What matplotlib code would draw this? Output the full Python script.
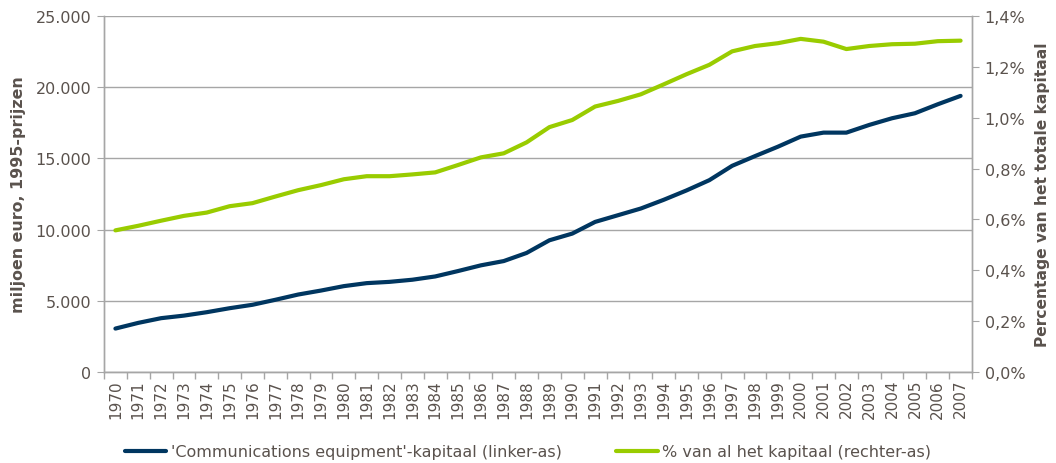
import matplotlib
matplotlib.use("Agg")
import matplotlib.pyplot as plt
from matplotlib.ticker import FuncFormatter, MultipleLocator, FixedLocator

years = list(range(1970, 2008))

# 'Communications equipment'-kapitaal, miljoen euro (linker-as)
kapitaal = [3050, 3450, 3780, 3960, 4200, 4480, 4720, 5070, 5440, 5720,
            6030, 6240, 6330, 6480, 6710, 7090, 7490, 7790, 8360, 9250,
            9720, 10540, 11010, 11480, 12090, 12750, 13470, 14480, 15160, 15820,
            16530, 16810, 16810, 17350, 17820, 18170, 18800, 19390]

# % van al het kapitaal (rechter-as)
aandeel = [0.557, 0.575, 0.595, 0.614, 0.627, 0.652, 0.664, 0.690, 0.715, 0.735,
           0.758, 0.770, 0.770, 0.777, 0.785, 0.814, 0.844, 0.860, 0.903, 0.963,
           0.991, 1.044, 1.066, 1.092, 1.131, 1.171, 1.208, 1.261, 1.282, 1.293,
           1.310, 1.299, 1.270, 1.282, 1.289, 1.291, 1.301, 1.303]

label_left = "'Communications equipment'-kapitaal (linker-as)"
label_right = "% van al het kapitaal (rechter-as)"

TXT = '#5a524d'
GRID = '#a6a6a6'
NAVY = '#003660'
GREEN = '#99cc00'

plt.rcParams['font.family'] = ['DejaVu Sans']

fig = plt.figure(figsize=(10.56, 4.64), dpi=100)
W, H = 1056, 464
ax = fig.add_axes([104 / W, 1 - 373 / H, (972 - 104) / W, (373 - 17) / H])
ax2 = ax.twinx()

x = list(range(len(years)))
l1, = ax.plot(x, kapitaal, color=NAVY, lw=3, solid_capstyle='round', zorder=3)
l2, = ax2.plot(x, aandeel, color=GREEN, lw=3, solid_capstyle='round', zorder=3)

ax.set_xlim(-0.5, len(years) - 0.5)
ax.set_ylim(0, 25000)
ax2.set_ylim(0, 1.4)

# x-as: labels midden in categorie, streepjes ertussen
ax.set_xticks(x)
ax.set_xticklabels([str(y) for y in years], rotation=90, fontsize=11, color=TXT)
ax.tick_params(axis='x', length=0, pad=5)
ax.xaxis.set_minor_locator(FixedLocator([i - 0.5 for i in range(len(years) + 1)]))
ax.tick_params(axis='x', which='minor', length=5, color=GRID, width=1)

ax.yaxis.set_major_locator(MultipleLocator(5000))
ax.yaxis.set_major_formatter(FuncFormatter(lambda v, p: f"{int(v):,}".replace(",", ".")))
ax.tick_params(axis='y', length=5, color=GRID, labelsize=11.5, labelcolor=TXT, pad=4)
ax.grid(axis='y', color=GRID, lw=1)
ax.set_axisbelow(True)

ax2.yaxis.set_major_locator(MultipleLocator(0.2))
ax2.yaxis.set_major_formatter(FuncFormatter(lambda v, p: f"{v:.1f}%".replace(".", ",")))
ax2.tick_params(axis='y', length=5, color=GRID, labelsize=11.5, labelcolor=TXT, pad=4)

for a in (ax, ax2):
    a.spines['top'].set_visible(False)
    for s in ('left', 'right', 'bottom'):
        a.spines[s].set_color(GRID)
        a.spines[s].set_linewidth(1)

ax.set_ylabel("miljoen euro, 1995-prijzen", fontsize=11.4, fontweight='bold', color=TXT, labelpad=7)
ax2.set_ylabel("Percentage van het totale kapitaal", fontsize=11.2, fontweight='bold', color=TXT, labelpad=7)

fig.legend([l1, l2], [label_left, label_right], loc='center', bbox_to_anchor=(0.5, 1 - 453 / H),
           ncol=2, frameon=False, fontsize=11.5, labelcolor=TXT, handlelength=2.6,
           columnspacing=3.4, handletextpad=0.3)

fig.savefig("out.png", dpi=100)
